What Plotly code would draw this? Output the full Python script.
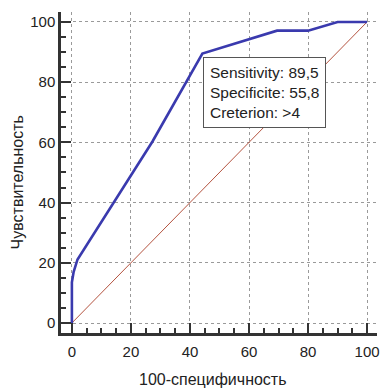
import plotly.graph_objects as go

# ROC curve data
fpr = [0, 0, 0.6, 1.9, 27.3, 44.2, 69.5, 80.0, 90.0, 100]
tpr = [0, 13.5, 17.0, 21.1, 60.3, 89.5, 97.1, 97.1, 100, 100]
diag_x = [0, 100]
diag_y = [0, 100]
tick_vals = [0, 20, 40, 60, 80, 100]
box_lines = ["Sensitivity: 89,5", "Specificite: 55,8", "Creterion: >4"]
x_title = "100-специфичность"
y_title = "Чувствительность"

FONT = "Liberation Sans, Arial, Helvetica, sans-serif"

fig = go.Figure()
fig.add_trace(go.Scatter(x=diag_x, y=diag_y, mode="lines",
                         line=dict(color="#b4533f", width=1), hoverinfo="skip"))
fig.add_trace(go.Scatter(x=fpr, y=tpr, mode="lines",
                         line=dict(color="#3a3aae", width=2.6), hoverinfo="skip"))

axis_common = dict(
    tickvals=tick_vals,
    ticks="inside", ticklen=10, tickwidth=2, tickcolor="#333333",
    showline=True, linecolor="#333333", linewidth=2.5,
    showgrid=True, gridcolor="#9a9a9a", griddash="dot", gridwidth=1,
    zeroline=False,
    minor=dict(dtick=5, ticks="inside", ticklen=5, tickwidth=1.5,
               tickcolor="#333333", showgrid=False),
    tickfont=dict(family=FONT, size=15, color="#222222"),
    ticklabeloverflow="allow",
    fixedrange=True,
)

fig.update_xaxes(range=[-3.69, 103.36], ticklabelstandoff=3, **axis_common)
fig.update_yaxes(range=[-3.32, 103.3], **axis_common)

fig.add_annotation(
    x=44.3, y=88.4, xref="x", yref="y", xanchor="left", yanchor="top",
    text="<br>".join(box_lines), align="left", showarrow=False,
    font=dict(family=FONT, size=15.5, color="#222222"),
    bgcolor="white", bordercolor="#555555", borderwidth=1, borderpad=6,
)

# pixel positions for titles converted into paper coordinates
W, H = 382, 388
ml, mr, mt, mb = 61, 2, 12, 55
pw, ph = W - ml - mr, H - mt - mb

fig.add_annotation(
    x=(214 - ml) / pw, y=(H - mb - 380) / ph, xref="paper", yref="paper",
    xanchor="center", yanchor="middle",
    text=x_title, showarrow=False,
    font=dict(family=FONT, size=16, color="#222222"),
)
fig.add_annotation(
    x=(17 - ml) / pw, y=(H - mb - 182) / ph, xref="paper", yref="paper",
    xanchor="center", yanchor="middle",
    text=y_title, showarrow=False, textangle=-90,
    font=dict(family=FONT, size=16, color="#222222"),
)

fig.update_layout(
    width=W, height=H,
    margin=dict(l=ml, r=mr, t=mt, b=mb),
    paper_bgcolor="white", plot_bgcolor="white",
    showlegend=False,
    font=dict(family=FONT),
)

fig.write_html("out.html", config={"displayModeBar": False})
